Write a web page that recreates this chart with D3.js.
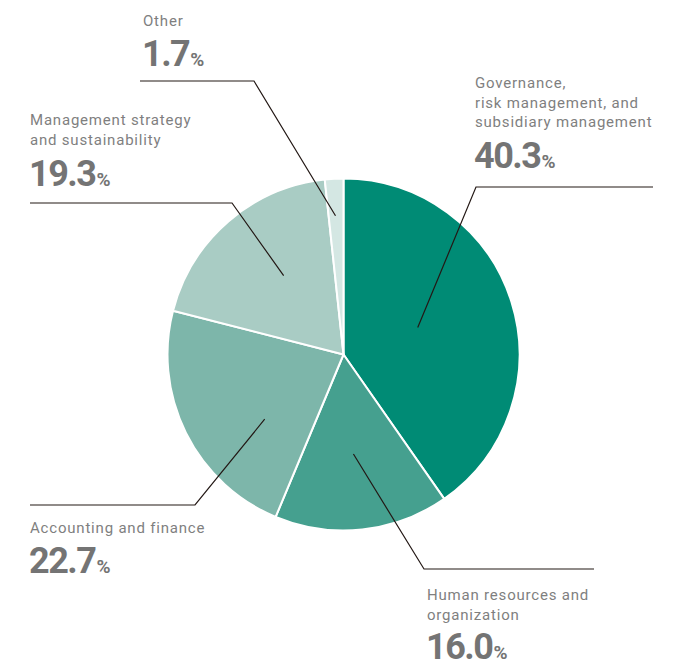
<!DOCTYPE html>
<html><head><meta charset="utf-8">
<script src="https://cdn.jsdelivr.net/npm/d3@7"></script>
<style>body{margin:0;background:#fff}svg{display:block}</style>
</head><body>
<svg id="c" width="687" height="666"></svg>
<script>
const categories = ["Governance, risk management, and subsidiary management","Human resources and organization","Accounting and finance","Management strategy and sustainability","Other"];
const labelLines = [["Governance,","risk management, and","subsidiary management"],["Human resources and","organization"],["Accounting and finance"],["Management strategy","and sustainability"],["Other"]];
const values = [40.3, 16.0, 22.7, 19.3, 1.7];
const valueLabels = ["40.3","16.0","22.7","19.3","1.7"];
const colors = ["#008B75","#45A08F","#7DB6AA","#A9CCC4","#D4E7E3"];

// label layout: anchor (angle deg, radius), elbow, line end, text pos
const layout = [
  {aAng:70, aR:79, elbow:[476,187], end:[653,187], tx:475, ty:88, gap:41},
  {aAng:174.3, aR:100, elbow:[424,569], end:[594,569], tx:427, ty:600, gap:39},
  {aAng:230.6, aR:102, elbow:[195,505], end:[30,505], tx:30, ty:533, gap:40},
  {aAng:322.8, aR:99, elbow:[232,203], end:[30,203], tx:30, ty:125, gap:41},
  {aAng:356.7, aR:139, elbow:[254,81], end:[140,81], tx:143, ty:26, gap:40}
];

const svg = d3.select("#c");
const cx = 343.5, cy = 354.5, R = 176;
const g = svg.append("g").attr("transform", `translate(${cx},${cy})`);
const pie = d3.pie().sort(null).value(d => d)(values);
const arc = d3.arc().innerRadius(0).outerRadius(R);
g.selectAll("path").data(pie).join("path")
  .attr("d", arc).attr("fill", (d,i) => colors[i])
  .attr("stroke", "#fff").attr("stroke-width", 2).attr("stroke-linejoin","round");

// leaders
layout.forEach((L, i) => {
  const a = L.aAng * Math.PI/180;
  const p0 = [cx + L.aR*Math.sin(a), cy - L.aR*Math.cos(a)];
  svg.append("polyline")
    .attr("points", [p0, L.elbow, L.end].map(p => p.join(",")).join(" "))
    .attr("fill","none").attr("stroke","#231815").attr("stroke-width",1.2);
});

// labels
const fam = "Roboto, 'DejaVu Sans', sans-serif";
layout.forEach((L, i) => {
  const lines = labelLines[i];
  lines.forEach((t, j) => {
    svg.append("text").attr("x", L.tx).attr("y", L.ty + j*19.5)
      .attr("font-family", fam).attr("font-size", 15).attr("letter-spacing", 0.8)
      .attr("fill", "#7f7f7f").text(t);
  });
  const ny = L.ty + (lines.length-1)*19.5 + L.gap;
  const t = svg.append("text").attr("x", L.tx - 1).attr("y", ny)
    .attr("font-family", fam).attr("fill", "#747474").attr("font-weight", 700);
  t.append("tspan").attr("font-size", 36).attr("letter-spacing", -1.5).text(valueLabels[i]);
  t.append("tspan").attr("font-size", 19).attr("dx", 1).text("%");
});
</script>
</body></html>
